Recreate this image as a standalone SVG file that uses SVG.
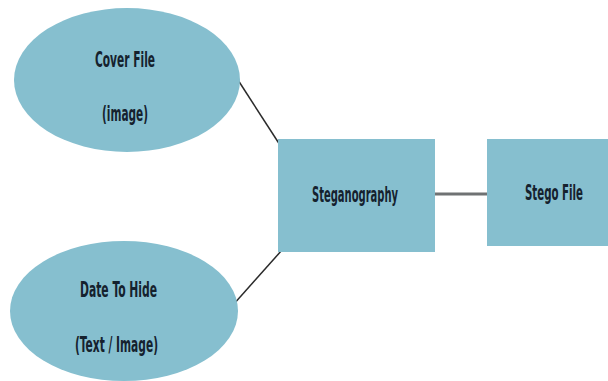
<svg xmlns="http://www.w3.org/2000/svg" width="608" height="381" viewBox="0 0 608 381">
<style>
.shape{fill:#86bfcf;stroke:none}
.lbl{font-family:"DejaVu Sans Condensed","DejaVu Sans",sans-serif;font-size:22px;font-weight:bold;fill:#15222e}
.edge{stroke:#2a2a2a;stroke-width:1.5;fill:none}
.edge2{stroke:#6f7273;stroke-width:3;fill:none}
</style>
<rect width="608" height="381" fill="#ffffff"/>
<g id="connectors">
<line class="edge" x1="238" y1="80" x2="280" y2="145"/>
<line class="edge" x1="233" y1="305" x2="282" y2="250"/>
<line class="edge2" x1="435" y1="194" x2="487" y2="194"/>
</g>
<g id="cover">
<ellipse class="shape" cx="127" cy="80" rx="113" ry="72"/>
<text class="lbl" x="95" y="67" textLength="60" lengthAdjust="spacingAndGlyphs">Cover File</text>
<text class="lbl" x="102" y="121" textLength="46" lengthAdjust="spacingAndGlyphs">(image)</text>
</g>
<g id="data">
<ellipse class="shape" cx="124" cy="311" rx="114" ry="70"/>
<text class="lbl" x="80" y="297" textLength="77" lengthAdjust="spacingAndGlyphs">Date To Hide</text>
<text class="lbl" x="75" y="352" textLength="83" lengthAdjust="spacingAndGlyphs">(Text / Image)</text>
</g>
<g id="stego">
<rect class="shape" x="278" y="139" width="157" height="113"/>
<text class="lbl" x="312" y="202" textLength="86" lengthAdjust="spacingAndGlyphs">Steganography</text>
</g>
<g id="stegofile">
<rect class="shape" x="487" y="139" width="121" height="107"/>
<text class="lbl" x="525" y="200" textLength="58" lengthAdjust="spacingAndGlyphs">Stego File</text>
</g>
</svg>
